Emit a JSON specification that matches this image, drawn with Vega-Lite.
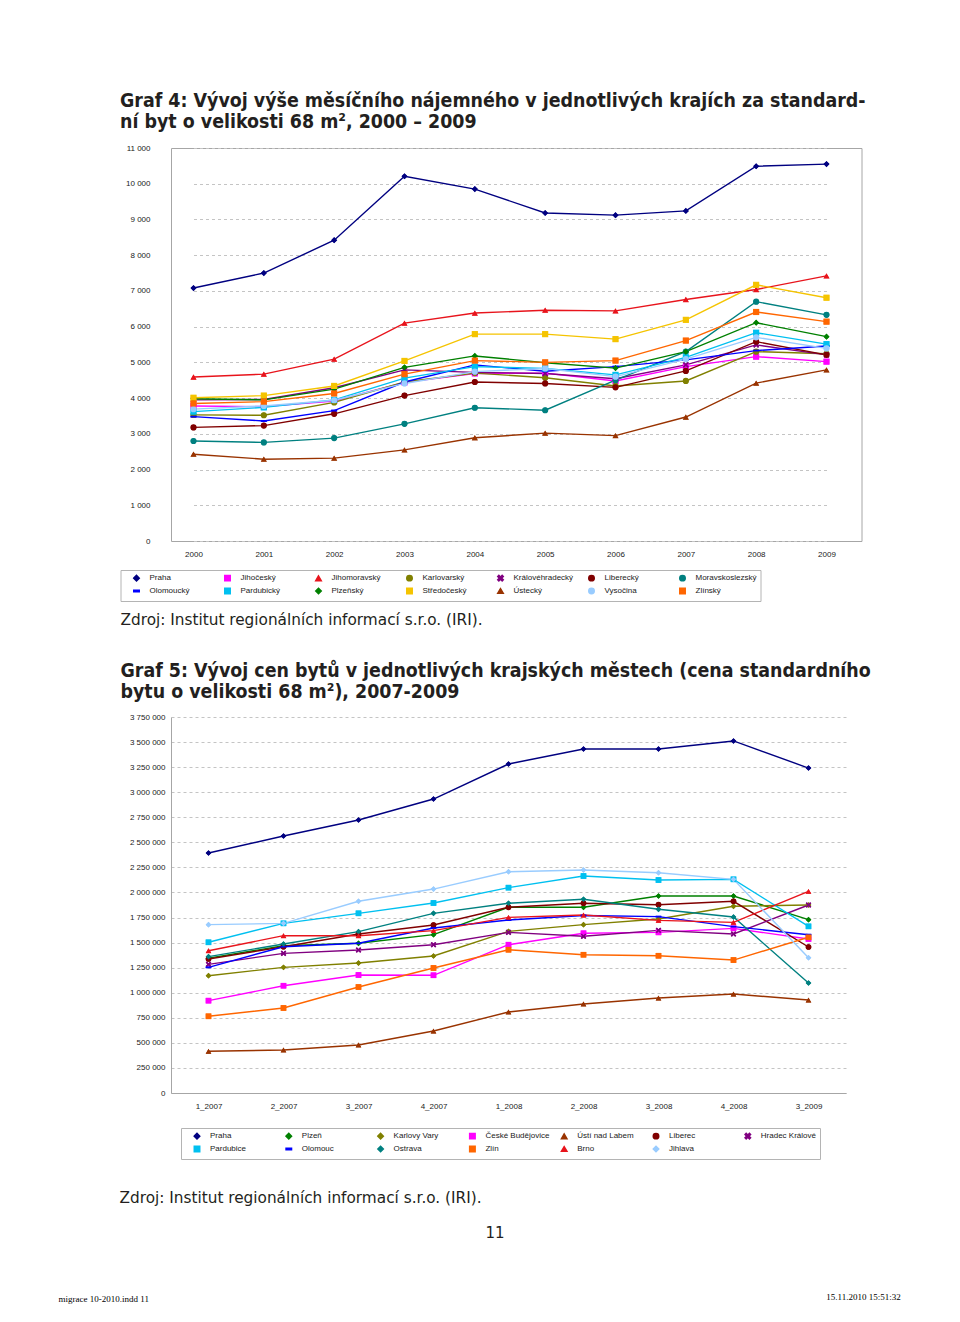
{
  "$schema": "https://vega.github.io/schema/vega-lite/v6.json",
  "background": "white",
  "padding": {"left": 58, "top": 90, "right": 10, "bottom": 8},
  "config": {
    "locale": {"number": {"decimal": ",", "thousands": " ", "grouping": [3], "currency": ["", " Kč"]}},
    "view": {"stroke": "#a6a6a6", "strokeWidth": 1},
    "axis": {"labelFont": "Liberation Sans", "labelFontSize": 8, "labelColor": "#1a1a1a", "ticks": false, "domain": false, "gridColor": "#c4c4c4", "gridDash": [3, 3], "gridWidth": 1},
    "legend": {"labelFont": "Liberation Sans", "labelFontSize": 8, "labelColor": "#1a1a1a", "strokeColor": "#b4b4b4", "fillColor": "white", "padding": 4, "rowPadding": 1, "columnPadding": 5, "labelOffset": 9, "symbolOffset": 8, "symbolSize": 30, "gridAlign": "all", "labelLimit": 120, "columns": 7, "direction": "horizontal"},
    "title": {"font": "DejaVu Sans Condensed", "color": "#231f20"}
  },
  "title": {"text": "15.11.2010   15:51:32", "orient": "bottom", "anchor": "end", "font": "Liberation Serif", "fontSize": 9, "fontWeight": "normal", "color": "#000000", "offset": 0, "dy": -11, "dx": 30},
  "resolve": {"scale": {"color": "independent", "shape": "independent"}, "legend": {"color": "independent", "shape": "independent"}},
  "vconcat": [
    {
      "title": {"text": "migrace 10-2010.indd   11", "orient": "bottom", "anchor": "start", "font": "Liberation Serif", "fontSize": 9, "fontWeight": "normal", "color": "#000000", "offset": 54, "dx": -61},
      "resolve": {"scale": {"color": "independent", "shape": "independent"}, "legend": {"color": "independent", "shape": "independent"}},
      "vconcat": [
        {
          "title": {"text": "11", "orient": "bottom", "anchor": "middle", "font": "DejaVu Sans", "fontSize": 15, "fontWeight": "normal", "offset": 20},
          "resolve": {"scale": {"color": "independent", "shape": "independent"}, "legend": {"color": "independent", "shape": "independent"}},
          "vconcat": [
            {
              "title": {"text": "Zdroj: Institut regionálních informací s.r.o. (IRI).", "orient": "bottom", "anchor": "start", "font": "DejaVu Sans", "fontSize": 15.3, "fontWeight": "normal", "offset": 31},
              "resolve": {"scale": {"color": "independent", "shape": "independent"}, "legend": {"color": "independent", "shape": "independent"}},
              "spacing": 11,
              "vconcat": [
                {
                  "width": 690.5,
                  "height": 393,
                  "title": {"text": ["Graf 4: Vývoj výše měsíčního nájemného v jednotlivých krajích za standard-", "ní byt o velikosti 68 m², 2000 – 2009"], "anchor": "start", "fontSize": 19.4, "fontWeight": "bold", "lineHeight": 21, "offset": 12},
                  "data": {"values": [
                    {"rok": "2000", "Praha": 7080, "Jihočeský": 3780, "Jihomoravský": 4590, "Karlovarský": 3530, "Královéhradecký": 3950, "Liberecký": 3180, "Moravskoslezský": 2800, "Olomoucký": 3480, "Pardubický": 3620, "Plzeňský": 3980, "Středočeský": 4010, "Ústecký": 2430, "Vysočina": 3690, "Zlínský": 3850},
                    {"rok": "2001", "Praha": 7500, "Jihočeský": 3760, "Jihomoravský": 4670, "Karlovarský": 3520, "Královéhradecký": 3960, "Liberecký": 3230, "Moravskoslezský": 2760, "Olomoucký": 3360, "Pardubický": 3740, "Plzeňský": 3950, "Středočeský": 4070, "Ústecký": 2290, "Vysočina": 3780, "Zlínský": 3900},
                    {"rok": "2002", "Praha": 8420, "Jihočeský": 3920, "Jihomoravský": 5090, "Karlovarský": 3880, "Královéhradecký": 4290, "Liberecký": 3560, "Moravskoslezský": 2880, "Olomoucký": 3650, "Pardubický": 3950, "Plzeňský": 4250, "Středočeský": 4340, "Ústecký": 2320, "Vysočina": 3940, "Zlínský": 4130},
                    {"rok": "2003", "Praha": 10210, "Jihočeský": 4440, "Jihomoravský": 6100, "Karlovarský": 4450, "Královéhradecký": 4790, "Liberecký": 4070, "Moravskoslezský": 3280, "Olomoucký": 4450, "Pardubický": 4560, "Plzeňský": 4860, "Středočeský": 5040, "Ústecký": 2550, "Vysočina": 4410, "Zlínský": 4670},
                    {"rok": "2004", "Praha": 9850, "Jihočeský": 4690, "Jihomoravský": 6380, "Karlovarský": 4700, "Královéhradecký": 4720, "Liberecký": 4450, "Moravskoslezský": 3730, "Olomoucký": 4930, "Pardubický": 4880, "Plzeňský": 5180, "Středočeský": 5790, "Ústecký": 2890, "Vysočina": 4740, "Zlínský": 5050},
                    {"rok": "2005", "Praha": 9180, "Jihočeský": 4700, "Jihomoravský": 6460, "Karlovarský": 4570, "Královéhradecký": 4690, "Liberecký": 4410, "Moravskoslezský": 3660, "Olomoucký": 4750, "Pardubický": 4830, "Plzeňský": 4990, "Středočeský": 5790, "Ústecký": 3020, "Vysočina": 4830, "Zlínský": 5000},
                    {"rok": "2006", "Praha": 9120, "Jihočeský": 4480, "Jihomoravský": 6440, "Karlovarský": 4340, "Královéhradecký": 4540, "Liberecký": 4300, "Moravskoslezský": 4500, "Olomoucký": 4880, "Pardubický": 4650, "Plzeňský": 4840, "Středočeský": 5650, "Ústecký": 2950, "Vysočina": 4600, "Zlínský": 5050},
                    {"rok": "2007", "Praha": 9240, "Jihočeský": 4880, "Jihomoravský": 6760, "Karlovarský": 4480, "Královéhradecký": 4930, "Liberecký": 4760, "Moravskoslezský": 5300, "Olomoucký": 5070, "Pardubický": 5140, "Plzeňský": 5300, "Středočeský": 6190, "Ústecký": 3470, "Vysočina": 5090, "Zlínský": 5610},
                    {"rok": "2008", "Praha": 10490, "Jihočeský": 5160, "Jihomoravský": 7040, "Karlovarský": 5300, "Královéhradecký": 5490, "Liberecký": 5580, "Moravskoslezský": 6700, "Olomoucký": 5330, "Pardubický": 5830, "Plzeňský": 6110, "Středočeský": 7170, "Ústecký": 4420, "Vysočina": 5700, "Zlínský": 6410},
                    {"rok": "2009", "Praha": 10550, "Jihočeský": 5020, "Jihomoravský": 7420, "Karlovarský": 5240, "Královéhradecký": 5210, "Liberecký": 5210, "Moravskoslezský": 6330, "Olomoucký": 5460, "Pardubický": 5510, "Plzeňský": 5720, "Středočeský": 6810, "Ústecký": 4790, "Vysočina": 5390, "Zlínský": 6140}
                  ]},
                  "transform": [{"fold": ["Praha", "Jihočeský", "Jihomoravský", "Karlovarský", "Královéhradecký", "Liberecký", "Moravskoslezský", "Olomoucký", "Pardubický", "Plzeňský", "Středočeský", "Ústecký", "Vysočina", "Zlínský"], "as": ["kraj", "najemne"]}],
                  "encoding": {
                    "x": {"field": "rok", "type": "ordinal", "title": null, "scale": {"type": "point", "padding": 0, "range": [22.5, 655.5]}, "axis": {"labelAngle": 0, "labelPadding": 9, "grid": false}},
                    "y": {"field": "najemne", "type": "quantitative", "title": null, "scale": {"domain": [0, 11000], "nice": false}, "axis": {"values": [0, 1000, 2000, 3000, 4000, 5000, 6000, 7000, 8000, 9000, 10000, 11000], "format": ",d", "labelPadding": 21, "grid": true}},
                    "color": {"field": "kraj", "type": "nominal", "title": null,
                      "scale": {"domain": ["Praha", "Jihočeský", "Jihomoravský", "Karlovarský", "Královéhradecký", "Liberecký", "Moravskoslezský", "Olomoucký", "Pardubický", "Plzeňský", "Středočeský", "Ústecký", "Vysočina", "Zlínský"],
                        "range": ["#000080", "#FF00FF", "#E8141C", "#808000", "#800080", "#800000", "#008080", "#0000FF", "#00C0F0", "#008000", "#F5C400", "#993300", "#99CCFF", "#FF6600"]},
                      "legend": {"orient": "none", "legendX": -50.5, "legendY": 422, "columns": 7, "direction": "horizontal"}},
                    "shape": {"field": "kraj", "type": "nominal", "title": null,
                      "scale": {"domain": ["Praha", "Jihočeský", "Jihomoravský", "Karlovarský", "Královéhradecký", "Liberecký", "Moravskoslezský", "Olomoucký", "Pardubický", "Plzeňský", "Středočeský", "Ústecký", "Vysočina", "Zlínský"],
                        "range": ["diamond", "square", "triangle-up", "circle", "M-1,-0.6L-0.6,-1L0,-0.4L0.6,-1L1,-0.6L0.4,0L1,0.6L0.6,1L0,0.4L-0.6,1L-1,0.6L-0.4,0Z", "circle", "circle", "M-1,-0.3L1,-0.3L1,0.3L-1,0.3Z", "square", "diamond", "square", "triangle-up", "circle", "square"]},
                      "legend": {"orient": "none", "legendX": -50.5, "legendY": 422, "columns": 7, "direction": "horizontal"}}
                  },
                  "layer": [
                    {"mark": {"type": "line", "strokeWidth": 1.4}},
                    {"mark": {"type": "point", "filled": true, "size": 38, "opacity": 1}}
                  ]
                },
                {
                  "width": 675,
                  "height": 376,
                  "view": {"stroke": null},
                  "title": {"text": "Zdroj: Institut regionálních informací s.r.o. (IRI).", "subtitle": ["Graf 5: Vývoj cen bytů v jednotlivých krajských městech (cena standardního", "bytu o velikosti 68 m²), 2007-2009"], "anchor": "start", "font": "DejaVu Sans", "fontSize": 15.3, "fontWeight": "normal", "subtitleFont": "DejaVu Sans Condensed", "subtitleFontSize": 19.4, "subtitleFontWeight": "bold", "subtitleColor": "#231f20", "subtitleLineHeight": 21, "subtitlePadding": 33, "offset": 12},
                  "data": {"values": [
                    {"obdobi": "1_2007", "Praha": 2394000, "Plzeň": 1345000, "Karlovy Vary": 1170000, "České Budějovice": 921000, "Ústí nad Labem": 416000, "Liberec": 1336000, "Hradec Králové": 1283000, "Pardubice": 1503000, "Olomouc": 1253000, "Ostrava": 1360000, "Zlín": 765000, "Brno": 1419000, "Jihlava": 1679000},
                    {"obdobi": "2_2007", "Praha": 2563000, "Plzeň": 1469000, "Karlovy Vary": 1253000, "České Budějovice": 1070000, "Ústí nad Labem": 429000, "Liberec": 1459000, "Hradec Králové": 1393000, "Pardubice": 1692000, "Olomouc": 1459000, "Ostrava": 1486000, "Zlín": 848000, "Brno": 1569000, "Jihlava": 1692000},
                    {"obdobi": "3_2007", "Praha": 2723000, "Plzeň": 1493000, "Karlovy Vary": 1296000, "České Budějovice": 1177000, "Ústí nad Labem": 479000, "Liberec": 1586000, "Hradec Králové": 1426000, "Pardubice": 1792000, "Olomouc": 1493000, "Ostrava": 1609000, "Zlín": 1057000, "Brno": 1569000, "Jihlava": 1912000},
                    {"obdobi": "4_2007", "Praha": 2932000, "Plzeň": 1579000, "Karlovy Vary": 1366000, "České Budějovice": 1174000, "Ústí nad Labem": 618000, "Liberec": 1675000, "Hradec Králové": 1479000, "Pardubice": 1895000, "Olomouc": 1646000, "Ostrava": 1792000, "Zlín": 1247000, "Brno": 1619000, "Jihlava": 2034000},
                    {"obdobi": "1_2008", "Praha": 3281000, "Plzeň": 1852000, "Karlovy Vary": 1612000, "České Budějovice": 1479000, "Ústí nad Labem": 808000, "Liberec": 1852000, "Hradec Králové": 1602000, "Pardubice": 2048000, "Olomouc": 1725000, "Ostrava": 1892000, "Zlín": 1429000, "Brno": 1752000, "Jihlava": 2207000},
                    {"obdobi": "2_2008", "Praha": 3431000, "Plzeň": 1852000, "Karlovy Vary": 1679000, "České Budějovice": 1593000, "Ústí nad Labem": 888000, "Liberec": 1892000, "Hradec Králové": 1563000, "Pardubice": 2164000, "Olomouc": 1770000, "Ostrava": 1932000, "Zlín": 1379000, "Brno": 1775000, "Jihlava": 2224000},
                    {"obdobi": "3_2008", "Praha": 3431000, "Plzeň": 1965000, "Karlovy Vary": 1735000, "České Budějovice": 1602000, "Ústí nad Labem": 947000, "Liberec": 1878000, "Hradec Králové": 1622000, "Pardubice": 2124000, "Olomouc": 1759000, "Ostrava": 1832000, "Zlín": 1369000, "Brno": 1722000, "Jihlava": 2197000},
                    {"obdobi": "4_2008", "Praha": 3511000, "Plzeň": 1965000, "Karlovy Vary": 1862000, "České Budějovice": 1642000, "Ústí nad Labem": 987000, "Liberec": 1912000, "Hradec Králové": 1586000, "Pardubice": 2131000, "Olomouc": 1659000, "Ostrava": 1755000, "Zlín": 1326000, "Brno": 1702000, "Jihlava": 2131000},
                    {"obdobi": "3_2009", "Praha": 3241000, "Plzeň": 1729000, "Karlovy Vary": 1875000, "České Budějovice": 1536000, "Ústí nad Labem": 927000, "Liberec": 1456000, "Hradec Králové": 1875000, "Pardubice": 1662000, "Olomouc": 1579000, "Ostrava": 1097000, "Zlín": 1553000, "Brno": 2011000, "Jihlava": 1349000}
                  ]},
                  "transform": [{"fold": ["Praha", "Plzeň", "Karlovy Vary", "České Budějovice", "Ústí nad Labem", "Liberec", "Hradec Králové", "Pardubice", "Olomouc", "Ostrava", "Zlín", "Brno", "Jihlava"], "as": ["mesto", "cena"]}],
                  "encoding": {
                    "x": {"field": "obdobi", "type": "ordinal", "title": null, "scale": {"type": "point", "padding": 0.5, "domain": ["1_2007", "2_2007", "3_2007", "4_2007", "1_2008", "2_2008", "3_2008", "4_2008", "3_2009"]}, "axis": {"labelAngle": 0, "labelPadding": 9, "grid": false, "domain": true, "domainColor": "#a6a6a6"}},
                    "y": {"field": "cena", "type": "quantitative", "title": null, "scale": {"domain": [0, 3750000], "nice": false}, "axis": {"values": [0, 250000, 500000, 750000, 1000000, 1250000, 1500000, 1750000, 2000000, 2250000, 2500000, 2750000, 3000000, 3250000, 3500000, 3750000], "format": ",d", "labelPadding": 6, "grid": true, "minExtent": 50.5, "domain": true, "domainColor": "#a6a6a6"}},
                    "color": {"field": "mesto", "type": "nominal", "title": null,
                      "scale": {"domain": ["Praha", "Plzeň", "Karlovy Vary", "České Budějovice", "Ústí nad Labem", "Liberec", "Hradec Králové", "Pardubice", "Olomouc", "Ostrava", "Zlín", "Brno", "Jihlava"],
                        "range": ["#000080", "#008000", "#808000", "#FF00FF", "#993300", "#800000", "#800080", "#00C0F0", "#0000FF", "#008080", "#FF6600", "#E8141C", "#99CCFF"]},
                      "legend": {"orient": "none", "legendX": 10, "legendY": 411, "columns": 7, "direction": "horizontal", "columnPadding": 1.8}},
                    "shape": {"field": "mesto", "type": "nominal", "title": null,
                      "scale": {"domain": ["Praha", "Plzeň", "Karlovy Vary", "České Budějovice", "Ústí nad Labem", "Liberec", "Hradec Králové", "Pardubice", "Olomouc", "Ostrava", "Zlín", "Brno", "Jihlava"],
                        "range": ["diamond", "diamond", "diamond", "square", "triangle-up", "circle", "M-1,-0.6L-0.6,-1L0,-0.4L0.6,-1L1,-0.6L0.4,0L1,0.6L0.6,1L0,0.4L-0.6,1L-1,0.6L-0.4,0Z", "square", "M-1,-0.3L1,-0.3L1,0.3L-1,0.3Z", "diamond", "square", "triangle-up", "diamond"]},
                      "legend": {"orient": "none", "legendX": 10, "legendY": 411, "columns": 7, "direction": "horizontal", "columnPadding": 1.8}}
                  },
                  "layer": [
                    {"mark": {"type": "line", "strokeWidth": 1.4}},
                    {"mark": {"type": "point", "filled": true, "size": 32, "opacity": 1}}
                  ]
                }
              ]
            }
          ]
        }
      ]
    }
  ]
}
